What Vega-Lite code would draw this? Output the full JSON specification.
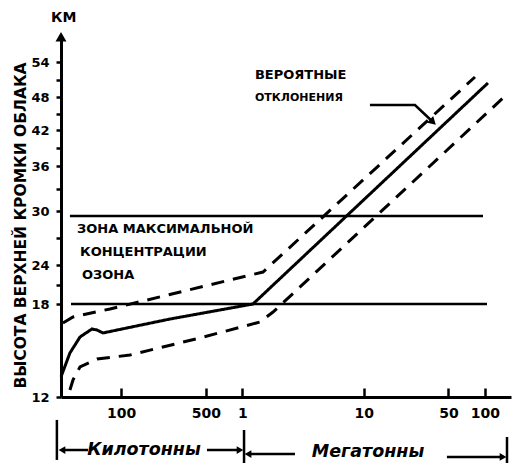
{
  "$schema": "https://vega.github.io/schema/vega-lite/v6.json",
  "width": 450,
  "height": 357,
  "autosize": {"type": "none"},
  "padding": {"left": 61, "top": 40, "right": 8, "bottom": 68},
  "background": "white",
  "title": {"text": "КМ", "anchor": "start", "frame": "group", "dx": -10, "offset": 7, "fontSize": 14, "fontWeight": "bold", "font": "DejaVu Sans", "color": "black"},
  "config": {"view": {"stroke": null}, "font": "DejaVu Sans"},
  "datasets": {
    "curves": [
      {"series": "solid", "x": 32, "y": 13.3},
      {"series": "solid", "x": 37.9, "y": 14.84},
      {"series": "solid", "x": 45.9, "y": 15.87},
      {"series": "solid", "x": 57.6, "y": 16.39},
      {"series": "solid", "x": 63.4, "y": 16.32},
      {"series": "solid", "x": 71, "y": 16.13},
      {"series": "solid", "x": 92.6, "y": 16.32},
      {"series": "solid", "x": 253, "y": 17.03},
      {"series": "solid", "x": 1224, "y": 18},
      {"series": "solid", "x": 105900, "y": 50.4},
      {"series": "upper", "x": 33.2, "y": 16.77},
      {"series": "upper", "x": 40.2, "y": 17.16},
      {"series": "upper", "x": 81.1, "y": 17.68},
      {"series": "upper", "x": 1480, "y": 22.92},
      {"series": "upper", "x": 82800, "y": 51.43},
      {"series": "lower", "x": 37.9, "y": 12.45},
      {"series": "lower", "x": 40.2, "y": 13.1},
      {"series": "lower", "x": 45.9, "y": 13.94},
      {"series": "lower", "x": 63.4, "y": 14.45},
      {"series": "lower", "x": 118.5, "y": 14.71},
      {"series": "lower", "x": 448, "y": 15.81},
      {"series": "lower", "x": 1399, "y": 16.84},
      {"series": "lower", "x": 1791, "y": 17.48},
      {"series": "lower", "x": 140900, "y": 47.82}
    ],
    "zones": [
      {"x": 37.9, "x2": 96400, "y": 29.44},
      {"x": 38.7, "x2": 104000, "y": 18}
    ],
    "bars": [
      {"x": 29.6, "y": 10.52, "y2": 7.94},
      {"x": 1033, "y": 9.87, "y2": 7.74},
      {"x": 152000, "y": 9.42, "y2": 7.74}
    ],
    "arrows": [
      {"x": 32.6, "x2": 53.4, "y": 8.58},
      {"x": 511, "x2": 957, "y": 8.58},
      {"x": 1114, "x2": 2716, "y": 8.32},
      {"x": 48600, "x2": 141000, "y": 8.13}
    ],
    "heads": [
      {"x": 32.6, "y": 8.58, "dir": "left"},
      {"x": 957, "y": 8.58, "dir": "right"},
      {"x": 1114, "y": 8.32, "dir": "left"},
      {"x": 141000, "y": 8.13, "dir": "right"}
    ],
    "axisTip": [
      {"x": 32, "y": 58.6}
    ],
    "pointer": [
      {"x": 11270, "y": 46.55},
      {"x": 26500, "y": 46.55},
      {"x": 37300, "y": 43.45}
    ],
    "notes": [
      {"kind": "zone", "x": 43.4, "y": 28.0, "text": "ЗОНА МАКСИМАЛЬНОЙ"},
      {"kind": "zone", "x": 45.9, "y": 25.44, "text": "КОНЦЕНТРАЦИИ"},
      {"kind": "zone", "x": 47.6, "y": 22.46, "text": "ОЗОНА"},
      {"kind": "note1", "x": 1271, "y": 51.77, "text": "ВЕРОЯТНЫЕ"},
      {"kind": "note2", "x": 1271, "y": 47.82, "text": "ОТКЛОНЕНИЯ"},
      {"kind": "unit", "x": 154.5, "y": 8.58, "text": "Килотонны"},
      {"kind": "unit", "x": 10870, "y": 8.45, "text": "Мегатонны"}
    ]
  },
  "encoding": {
    "x": {
      "field": "x", "type": "quantitative",
      "scale": {"type": "log", "domain": [32, 164000], "nice": false},
      "axis": {
        "values": [100, 500, 1000, 10000, 50000, 100000],
        "labelExpr": "datum.value >= 1000 ? format(datum.value / 1000, 'd') : format(datum.value, 'd')",
        "title": null, "grid": false,
        "domainColor": "black", "domainWidth": 3,
        "tickColor": "black", "tickWidth": 2.5, "tickSize": -9,
        "labelPadding": 18, "labelFontSize": 14, "labelFontWeight": "bold",
        "labelColor": "black", "labelFont": "DejaVu Sans", "labelFlush": false
      }
    },
    "y": {
      "field": "y", "type": "quantitative",
      "scale": {"type": "linear", "domain": [12, 18, 24, 30, 36, 42, 48, 54, 58], "range": [357, 264, 225, 171, 126, 90, 57, 22, 0], "nice": false, "zero": false},
      "axis": {
        "values": [12, 18, 21, 24, 27, 30, 33, 36, 39, 42, 45, 48, 51, 54],
        "labelExpr": "datum.value % 6 == 0 ? datum.value : ''",
        "title": "ВЫСОТА ВЕРХНЕЙ КРОМКИ ОБЛАКА",
        "titleX": -33, "titleY": 185, "titleAngle": -90, "titleAlign": "center", "titleBaseline": "bottom",
        "titleFontSize": 15.5, "titleFontWeight": "bold", "titleColor": "black", "titleFont": "DejaVu Sans",
        "grid": false,
        "domainColor": "black", "domainWidth": 3,
        "tickColor": "black", "tickWidth": 2.5, "tickSize": 5,
        "labelPadding": 7, "labelFontSize": 13, "labelFontWeight": "bold", "labelColor": "black", "labelFont": "DejaVu Sans"
      }
    }
  },
  "layer": [
    {
      "data": {"name": "zones"},
      "mark": {"type": "rule", "color": "black", "strokeWidth": 2.5},
      "encoding": {"x2": {"field": "x2"}}
    },
    {
      "data": {"name": "curves"},
      "mark": {"type": "line", "color": "black", "strokeWidth": 3, "strokeCap": "butt"},
      "encoding": {
        "strokeDash": {"field": "series", "type": "nominal", "scale": {"domain": ["solid", "upper", "lower"], "range": [[1, 0], [13, 9], [13, 9]]}, "legend": null}
      }
    },
    {
      "data": {"name": "bars"},
      "mark": {"type": "rule", "color": "black", "strokeWidth": 2.5},
      "encoding": {"y2": {"field": "y2"}}
    },
    {
      "data": {"name": "arrows"},
      "mark": {"type": "rule", "color": "black", "strokeWidth": 2.5},
      "encoding": {"x2": {"field": "x2"}}
    },
    {
      "data": {"name": "heads"},
      "mark": {"type": "point", "filled": true, "color": "black", "size": 60, "opacity": 1},
      "encoding": {
        "shape": {"field": "dir", "type": "nominal", "scale": {"domain": ["left", "right"], "range": ["triangle-left", "triangle-right"]}, "legend": null}
      }
    },
    {
      "data": {"name": "axisTip"},
      "mark": {"type": "point", "filled": true, "color": "black", "size": 120, "shape": "triangle-up", "opacity": 1}
    },
    {
      "data": {"name": "pointer"},
      "mark": {"type": "line", "color": "black", "strokeWidth": 2.5},
      "encoding": {}
    },
    {
      "data": {"name": "pointer"},
      "transform": [{"filter": "datum.x > 30000"}],
      "mark": {"type": "point", "filled": true, "color": "black", "size": 80, "shape": "triangle-right", "angle": 43, "opacity": 1}
    },
    {
      "data": {"name": "notes"},
      "transform": [{"filter": "datum.kind == 'zone'"}],
      "mark": {"type": "text", "align": "left", "baseline": "middle", "fontSize": 13, "fontWeight": "bold", "font": "DejaVu Sans", "color": "black"},
      "encoding": {"text": {"field": "text"}}
    },
    {
      "data": {"name": "notes"},
      "transform": [{"filter": "datum.kind == 'note1'"}],
      "mark": {"type": "text", "align": "left", "baseline": "middle", "fontSize": 13, "fontWeight": "bold", "font": "DejaVu Sans", "color": "black"},
      "encoding": {"text": {"field": "text"}}
    },
    {
      "data": {"name": "notes"},
      "transform": [{"filter": "datum.kind == 'note2'"}],
      "mark": {"type": "text", "align": "left", "baseline": "middle", "fontSize": 11, "fontWeight": "bold", "font": "DejaVu Sans", "color": "black"},
      "encoding": {"text": {"field": "text"}}
    },
    {
      "data": {"name": "notes"},
      "transform": [{"filter": "datum.kind == 'unit'"}],
      "mark": {"type": "text", "align": "center", "baseline": "middle", "fontSize": 17.5, "fontWeight": "bold", "fontStyle": "italic", "font": "DejaVu Sans", "color": "black"},
      "encoding": {"text": {"field": "text"}}
    }
  ]
}
